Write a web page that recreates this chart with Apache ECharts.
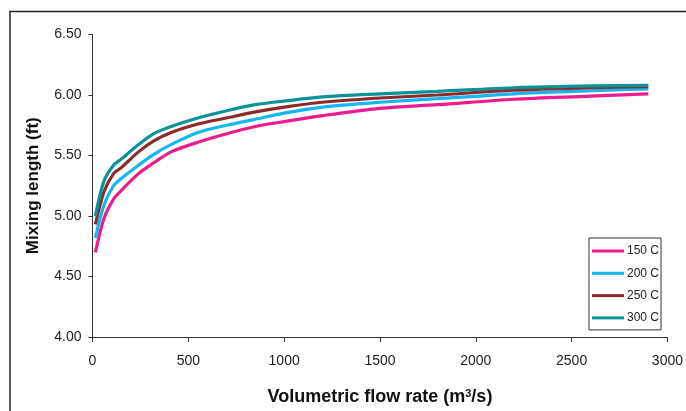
<!DOCTYPE html>
<html>
<head>
<meta charset="utf-8">
<script src="https://cdn.jsdelivr.net/npm/echarts@6/dist/echarts.min.js"></script>
<style>
  html, body { margin: 0; padding: 0; background: #fff; }
  #chart { width: 686px; height: 411px; }
</style>
</head>
<body>
<div id="chart"></div>
<script>
// flow rates (m3/s)
var flow = [15, 60, 110, 150, 240, 320, 410, 550, 700, 850, 1000, 1200, 1500, 1800, 2200, 2600, 2900];

var t150 = [4.70, 4.98, 5.14, 5.21, 5.35, 5.44, 5.53, 5.61, 5.68, 5.74, 5.78, 5.83, 5.89, 5.92, 5.965, 5.99, 6.01];
var t200 = [4.82, 5.09, 5.25, 5.31, 5.42, 5.51, 5.59, 5.69, 5.75, 5.80, 5.85, 5.90, 5.94, 5.97, 6.01, 6.035, 6.05];
var t250 = [4.93, 5.20, 5.35, 5.40, 5.53, 5.62, 5.69, 5.76, 5.81, 5.86, 5.90, 5.94, 5.975, 6.00, 6.04, 6.06, 6.07];
var t300 = [5.00, 5.29, 5.42, 5.47, 5.59, 5.68, 5.74, 5.81, 5.87, 5.92, 5.95, 5.985, 6.01, 6.03, 6.06, 6.075, 6.08];

var names = ['150 C', '200 C', '250 C', '300 C'];
var colors = ['#ec1c8d', '#14b7ef', '#8b2b2b', '#0a9398'];

function pairs(vals) {
    return flow.map(function (f, i) { return [f, vals[i]]; });
}

function line(name, vals, color) {
    return {
        name: name,
        type: 'line',
        data: pairs(vals),
        showSymbol: false,
        smooth: 0.3,
        color: color,
        lineStyle: { width: 3.2, color: color }
    };
}

var chart = echarts.init(document.getElementById('chart'));

chart.setOption({
    animation: false,
    textStyle: { fontFamily: 'Liberation Sans, Arial, sans-serif' },
    grid: { left: 92.5, right: 18.5, top: 34.5, bottom: 72 },
    graphic: [{
        type: 'polyline',
        shape: { points: [[10, 420], [10, 11.5], [700, 11.5]] },
        style: { stroke: '#222', lineWidth: 1.5, fill: null }
    }],
    legend: {
        orient: 'vertical',
        left: 589,
        top: 238,
        width: 73,
        data: names.map(function (n) { return { name: n, icon: 'rect' }; }),
        itemWidth: 32,
        itemHeight: 3,
        itemGap: 10.3,
        padding: [7, 2, 6, 3],
        borderColor: '#333',
        borderWidth: 1,
        backgroundColor: '#fff',
        textStyle: { fontSize: 12, color: '#222', padding: [0, 0, 0, -2] }
    },
    xAxis: {
        type: 'value',
        min: 0,
        max: 3000,
        interval: 500,
        name: 'Volumetric flow rate (m{sup|3}/s)',
        nameLocation: 'middle',
        nameGap: 51,
        nameTextStyle: {
            fontSize: 18,
            fontWeight: 'bold',
            color: '#111',
            rich: { sup: { fontSize: 11, fontWeight: 'bold', verticalAlign: 'top', padding: [0, 0, 7, 0] } }
        },
        axisLine: { lineStyle: { color: '#333', width: 1 } },
        axisTick: { length: 5, lineStyle: { color: '#333' } },
        axisLabel: {
            margin: 17,
            fontSize: 14,
            color: '#222',
            formatter: function (v) { return String(v); }
        },
        splitLine: { show: false }
    },
    yAxis: {
        type: 'value',
        min: 4,
        max: 6.5,
        interval: 0.5,
        name: 'Mixing length (ft)',
        nameLocation: 'middle',
        nameGap: 51,
        nameTextStyle: { fontSize: 17, fontWeight: 'bold', color: '#111' },
        axisLine: { show: true, lineStyle: { color: '#333', width: 1 } },
        axisTick: { show: true, length: 4, lineStyle: { color: '#333' } },
        axisLabel: {
            margin: 11,
            fontSize: 14,
            color: '#222',
            formatter: function (v) { return v.toFixed(2); }
        },
        splitLine: { show: false }
    },
    series: [
        line(names[0], t150, colors[0]),
        line(names[1], t200, colors[1]),
        line(names[2], t250, colors[2]),
        line(names[3], t300, colors[3])
    ]
});
</script>
</body>
</html>
